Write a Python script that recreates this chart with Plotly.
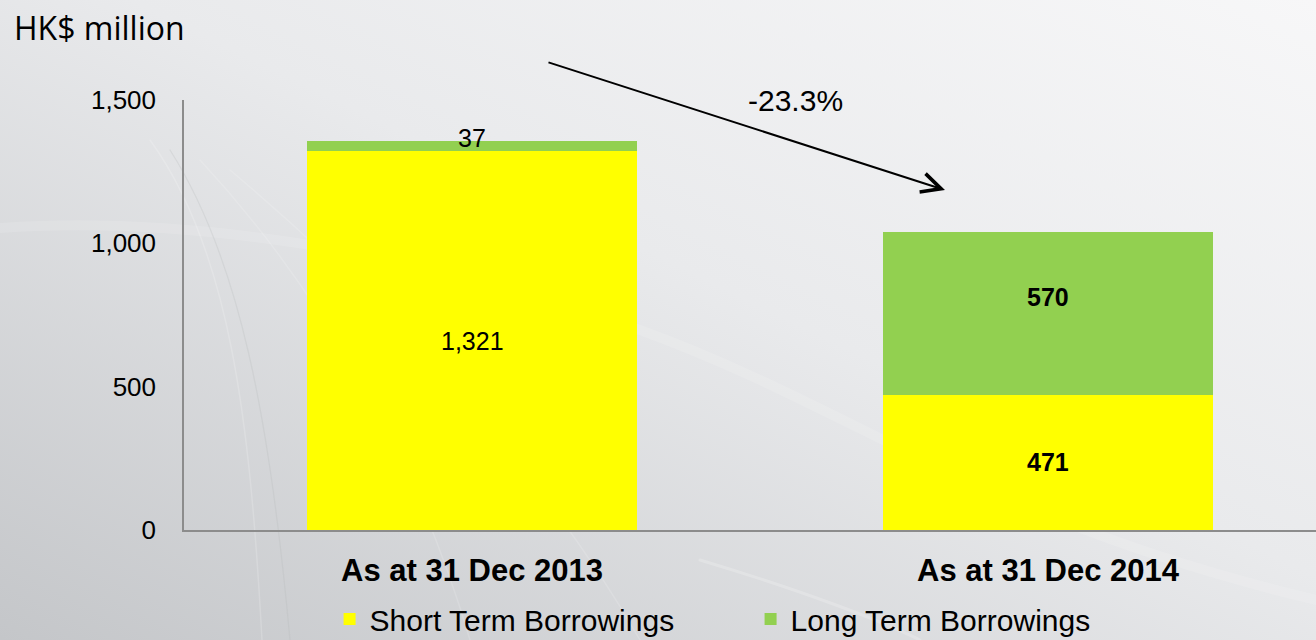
import base64
import plotly.graph_objects as go

# Borrowings by balance-sheet date, HK$ million
categories = ["As at 31 Dec 2013", "As at 31 Dec 2014"]
short_term = [1321, 471]
long_term = [37, 570]
change_label = "-23.3%"

x_pos = [0, 1]
YELLOW = "#FFFF00"
GREEN = "#92D050"
FONT = "Liberation Sans, Arial, sans-serif"

# soft grey slide backdrop with faint light swooshes
bg_svg = """<svg xmlns='http://www.w3.org/2000/svg' width='1316' height='640' viewBox='0 0 1316 640' preserveAspectRatio='none'>
<defs>
<linearGradient id='g' x1='1' y1='0' x2='0' y2='1'>
<stop offset='0' stop-color='#f7f7f8'/>
<stop offset='0.45' stop-color='#e9eaec'/>
<stop offset='1' stop-color='#c4c6c9'/>
</linearGradient>
</defs>
<rect width='1316' height='640' fill='url(#g)'/>
<g fill='none' stroke-linecap='round'>
<path d='M0 228 C 180 215, 420 250, 640 330 S 980 520, 1316 600' stroke='#ffffff' stroke-opacity='0.12' stroke-width='10'/>
<path d='M170 150 C 240 260, 270 420, 290 640' stroke='#b4b6b9' stroke-opacity='0.25' stroke-width='1.2'/>
<path d='M150 140 C 230 250, 250 420, 262 640' stroke='#ffffff' stroke-opacity='0.18' stroke-width='1.5'/>
<path d='M200 160 C 330 300, 420 470, 470 640' stroke='#ffffff' stroke-opacity='0.15' stroke-width='1.5'/>
<path d='M230 170 C 420 330, 560 500, 640 640' stroke='#ffffff' stroke-opacity='0.15' stroke-width='1.5'/>
<path d='M700 560 C 800 590, 880 620, 920 640' stroke='#ffffff' stroke-opacity='0.2' stroke-width='3'/>
</g>
</svg>"""
bg_uri = "data:image/svg+xml;base64," + base64.b64encode(bg_svg.encode()).decode()

# plot-area geometry in pixels, used to place paper-referenced items
PLOT_L, PLOT_T, PLOT_W, PLOT_H = 184, 100, 1132, 430

fig = go.Figure()

fig.add_trace(go.Bar(
    name="Short Term Borrowings", x=x_pos, y=short_term,
    marker=dict(color=YELLOW, line=dict(width=0)), width=0.573,
))
fig.add_trace(go.Bar(
    name="Long Term Borrowings", x=x_pos, y=long_term,
    marker=dict(color=GREEN, line=dict(width=0)), width=0.573,
))

# segment value labels, centred on their segments
label_styles = [
    # (bold, yshift) for short term / long term at each date
    [(False, 0), (False, 8)],
    [(True, 0), (True, 16)],
]
for i, xp in enumerate(x_pos):
    segs = [(0, short_term[i]), (short_term[i], long_term[i])]
    for j, (base, val) in enumerate(segs):
        bold, shift = label_styles[i][j]
        txt = f"{val:,}"
        if bold:
            txt = f"<b>{txt}</b>"
        fig.add_annotation(
            x=xp, y=base + val / 2, xref="x", yref="y", text=txt,
            showarrow=False, yshift=shift,
            font=dict(family=FONT, size=25, color="#000000"),
        )

# decline arrow between the two dates
fig.add_annotation(
    x=0.8212, y=1186, ax=0.1302, ay=1633,
    xref="x", yref="y", axref="x", ayref="y",
    text="", showarrow=True, arrowhead=5, arrowsize=1.9, arrowwidth=2,
    arrowcolor="#000000", standoff=0, startstandoff=0,
)
fig.add_annotation(
    x=0.5608, y=1500, xref="x", yref="y", text=change_label, showarrow=False,
    font=dict(family=FONT, size=30, color="#000000"),
)

# unit caption
fig.add_annotation(
    x=(12 - PLOT_L) / PLOT_W, y=1 + (PLOT_T - 27) / PLOT_H,
    xref="paper", yref="paper", xanchor="left", yanchor="middle",
    text="HK$ million", showarrow=False,
    font=dict(family="Open Sans, sans-serif", size=32, color="#000000"),
)

fig.update_layout(
    width=1316, height=640,
    margin=dict(l=PLOT_L, r=0, t=PLOT_T, b=640 - PLOT_T - PLOT_H, autoexpand=False),
    barmode="stack",
    paper_bgcolor="#e6e7e9",
    plot_bgcolor="rgba(0,0,0,0)",
    font=dict(family=FONT, color="#000000"),
    showlegend=True,
    legend=dict(
        orientation="h", x=0.1286, y=-(619 - PLOT_T - PLOT_H) / PLOT_H,
        xanchor="left", yanchor="middle",
        font=dict(family=FONT, size=30, color="#000000"),
        bgcolor="rgba(0,0,0,0)", entrywidth=376, entrywidthmode="pixels",
        traceorder="normal", itemclick=False,
    ),
    images=[dict(
        source=bg_uri, xref="paper", yref="paper",
        x=-PLOT_L / PLOT_W, y=1 + PLOT_T / PLOT_H,
        sizex=1316 / PLOT_W, sizey=640 / PLOT_H,
        xanchor="left", yanchor="top", sizing="stretch", layer="below",
    )],
)

fig.update_xaxes(
    range=[-0.5, 1.4653], tickvals=x_pos, ticktext=[f"<b>{c}</b>" for c in categories],
    showline=True, linecolor="#8c8c8c", linewidth=1.5, showgrid=False, zeroline=False,
    ticks="", ticklabelstandoff=12,
    tickfont=dict(family=FONT, size=31, color="#000000"),
)
fig.update_yaxes(
    range=[0, 1500], tickvals=[0, 500, 1000, 1500], tickformat=",",
    showline=True, linecolor="#8c8c8c", linewidth=1.5, showgrid=False, zeroline=False,
    ticks="", ticklabelstandoff=21,
    tickfont=dict(family=FONT, size=26, color="#000000"),
)

fig.write_html("out.html")
